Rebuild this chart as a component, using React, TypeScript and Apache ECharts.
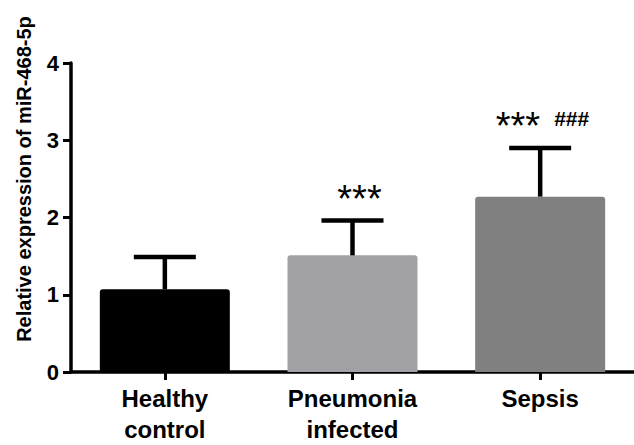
import React, { useEffect, useRef } from "react";
import * as echarts from "echarts";

const categories = ["Healthy\ncontrol", "Pneumonia\ninfected", "Sepsis"];
const means = [1.07, 1.51, 2.27];
const errors = [0.42, 0.45, 0.63];
const starMarks = ["", "***", "***"];
const hashMarks = ["", "", "###"];
const barColors = ["#000000", "#a2a1a6", "#808080"];
const yTicks = [0, 1, 2, 3, 4];
const yTitle = "Relative expression of miR-468-5p";

export default function App() {
  const ref = useRef<HTMLDivElement>(null);
  useEffect(() => {
    const chart = echarts.init(ref.current!, null, { renderer: "svg" });
    const font = "Liberation Sans, Arial, sans-serif";
    chart.setOption({
      animation: false,
      grid: { left: 71, right: 0, top: 63, bottom: 70, containLabel: false },
      xAxis: {
        type: "category",
        data: categories,
        axisLine: { lineStyle: { color: "#000", width: 3.5 } },
        axisTick: { show: true, alignWithLabel: true, length: 8, lineStyle: { color: "#000", width: 3 } },
        axisLabel: {
          color: "#000",
          fontFamily: font,
          fontWeight: "bold",
          fontSize: 24,
          lineHeight: 31,
          margin: 11,
        },
      },
      yAxis: {
        type: "value",
        min: yTicks[0],
        max: yTicks[yTicks.length - 1],
        interval: 1,
        splitLine: { show: false },
        axisLine: { show: true, lineStyle: { color: "#000", width: 3.5 } },
        axisTick: { show: true, length: 8, lineStyle: { color: "#000", width: 3 } },
        axisLabel: {
          color: "#000",
          fontFamily: font,
          fontWeight: "bold",
          fontSize: 22,
          margin: 12,
        },
      },
      graphic: [
        {
          type: "text",
          x: 24,
          y: 179,
          rotation: Math.PI / 2,
          style: {
            text: yTitle,
            fill: "#000",
            font: `bold 20px ${font}`,
            textAlign: "center",
            textVerticalAlign: "middle",
          },
        },
      ],
      series: [
        {
          type: "bar",
          barWidth: 130,
          data: means.map((v, i) => ({
            value: v,
            itemStyle: { color: barColors[i], borderRadius: [3, 3, 0, 0] },
          })),
          z: 2,
        },
        {
          type: "custom",
          z: 3,
          clip: false,
          data: means.map((m, i) => [i, m, errors[i]]),
          renderItem: (params: any, api: any) => {
            const i = params.dataIndex;
            const x = api.value(0);
            const m = api.value(1);
            const e = api.value(2);
            const base = api.coord([x, m]);
            const top = api.coord([x, m + e]);
            const half = 31;
            const children: any[] = [
              {
                type: "line",
                shape: { x1: base[0], y1: base[1], x2: top[0], y2: top[1] },
                style: { stroke: "#000", lineWidth: 4.5 },
              },
              {
                type: "line",
                shape: { x1: top[0] - half, y1: top[1], x2: top[0] + half, y2: top[1] },
                style: { stroke: "#000", lineWidth: 4.5 },
              },
            ];
            const star = starMarks[i];
            const hash = hashMarks[i];
            if (star) {
              children.push({
                type: "text",
                x: hash ? top[0] : top[0] + 7,
                y: top[1] - 22,
                style: {
                  text: star,
                  fill: "#000",
                  font: `38px ${font}`,
                  textAlign: hash ? "right" : "center",
                  textVerticalAlign: "middle",
                },
              });
            }
            if (hash) {
              children.push({
                type: "text",
                x: top[0] + 14,
                y: top[1] - 29,
                style: {
                  text: hash,
                  fill: "#000",
                  font: `bold 21px ${font}`,
                  textAlign: "left",
                  textVerticalAlign: "middle",
                },
              });
            }
            return { type: "group", children };
          },
        },
      ],
    });
    return () => chart.dispose();
  }, []);
  return (
    <div
      ref={ref}
      style={{ position: "absolute", left: 0, top: 0, width: 634, height: 445, background: "#fff" }}
    />
  );
}
